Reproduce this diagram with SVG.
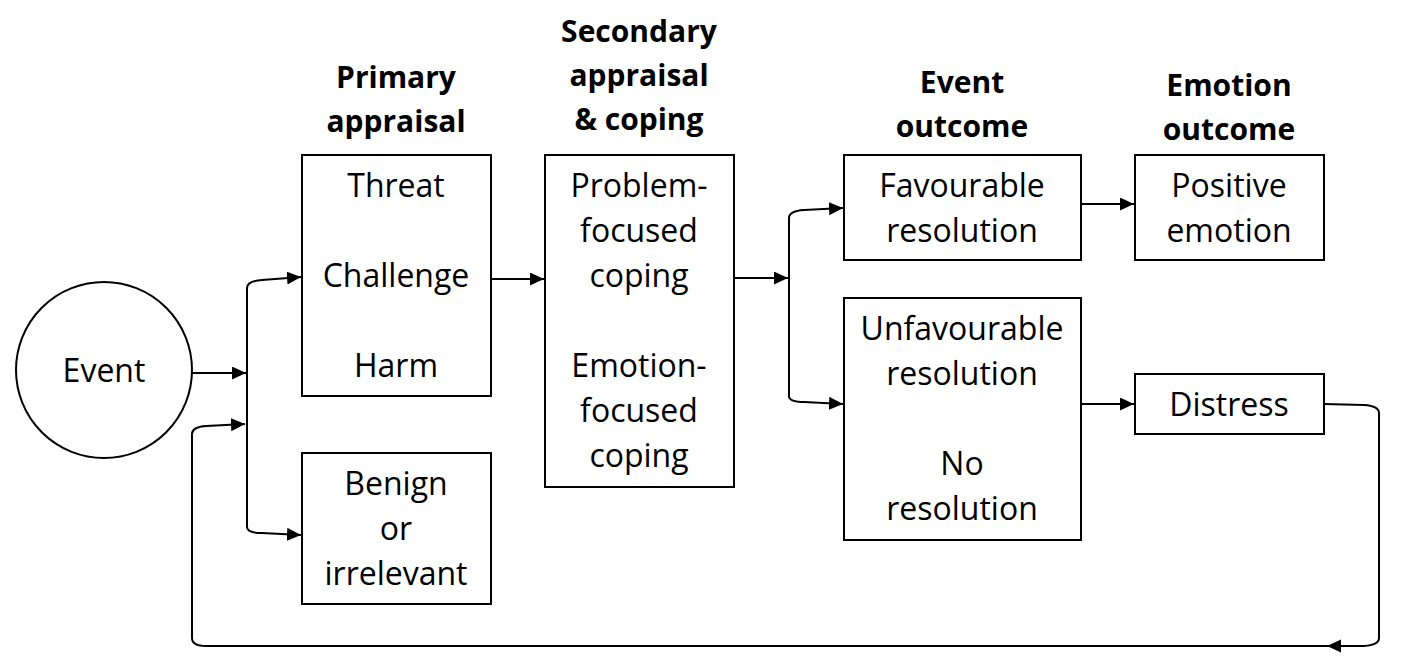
<svg xmlns="http://www.w3.org/2000/svg" width="1402" height="666" viewBox="0 0 1402 666">
<style>
.box{fill:#fff;stroke:#000;stroke-width:2}
.t{font-family:"Open Sans","Noto Sans",sans-serif;font-size:32px;fill:#000;text-anchor:middle}
.h{font-family:"Open Sans","Noto Sans",sans-serif;font-size:30px;font-weight:bold;fill:#000;text-anchor:middle}
.c{fill:none;stroke:#000;stroke-width:2}
</style>
<defs>
<marker id="arr" markerUnits="userSpaceOnUse" markerWidth="16" markerHeight="14" refX="14" refY="6.5" orient="auto">
<path d="M0,0 L14,6.5 L0,13 z" fill="#000"/>
</marker>
</defs>
<rect width="1402" height="666" fill="#fff"/>
<g id="headers">
<text class="h" x="396" y="88">Primary</text>
<text class="h" x="396" y="132">appraisal</text>
<text class="h" x="639" y="42">Secondary</text>
<text class="h" x="639" y="86">appraisal</text>
<text class="h" x="639" y="130">&amp; coping</text>
<text class="h" x="962" y="93">Event</text>
<text class="h" x="962" y="137">outcome</text>
<text class="h" x="1229" y="96">Emotion</text>
<text class="h" x="1229" y="140">outcome</text>
</g>
<g id="connectors">
<path class="c" d="M192,373 H246" marker-end="url(#arr)"/>
<path class="c" d="M247,373 V288 Q247,281 262,280 L301,277" marker-end="url(#arr)"/>
<path class="c" d="M247,373 V527 Q247,533 262,533 L301,535" marker-end="url(#arr)"/>
<path class="c" d="M491,279 H544" marker-end="url(#arr)"/>
<path class="c" d="M734,278 H788" marker-end="url(#arr)"/>
<path class="c" d="M789,278 V218 Q789,211 804,210 L843,208" marker-end="url(#arr)"/>
<path class="c" d="M789,278 V396 Q789,402 804,402 L843,404" marker-end="url(#arr)"/>
<path class="c" d="M1081,204 H1134" marker-end="url(#arr)"/>
<path class="c" d="M1081,404 H1134" marker-end="url(#arr)"/>
<path class="c" d="M1324,404 L1364,405 Q1379,406 1379,413 V638 Q1379,645 1364,646 L1327,646" marker-end="url(#arr)"/>
<path class="c" d="M1328,646 H206 Q192,646 192,638 V434 Q192,427 206,426 L245,424" marker-end="url(#arr)"/>
</g>
<g id="event">
<circle cx="104" cy="370" r="88" fill="#fff" stroke="#000" stroke-width="2"/>
<text class="t" x="104" y="382">Event</text>
</g>
<g id="primary">
<rect class="box" x="302" y="155" width="189" height="241"/>
<text class="t" x="396" y="197">Threat</text>
<text class="t" x="396" y="287">Challenge</text>
<text class="t" x="396" y="377">Harm</text>
</g>
<g id="benign">
<rect class="box" x="302" y="453" width="189" height="151"/>
<text class="t" x="396" y="495">Benign</text>
<text class="t" x="396" y="540">or</text>
<text class="t" x="396" y="585">irrelevant</text>
</g>
<g id="coping">
<rect class="box" x="545" y="155" width="189" height="332"/>
<text class="t" x="639" y="197">Problem-</text>
<text class="t" x="639" y="242">focused</text>
<text class="t" x="639" y="287">coping</text>
<text class="t" x="639" y="377">Emotion-</text>
<text class="t" x="639" y="422">focused</text>
<text class="t" x="639" y="467">coping</text>
</g>
<g id="favourable">
<rect class="box" x="844" y="155" width="237" height="105"/>
<text class="t" x="962" y="197">Favourable</text>
<text class="t" x="962" y="242">resolution</text>
</g>
<g id="unfavourable">
<rect class="box" x="844" y="298" width="237" height="242"/>
<text class="t" x="962" y="340">Unfavourable</text>
<text class="t" x="962" y="385">resolution</text>
<text class="t" x="962" y="475">No</text>
<text class="t" x="962" y="520">resolution</text>
</g>
<g id="positive">
<rect class="box" x="1135" y="155" width="189" height="105"/>
<text class="t" x="1229" y="197">Positive</text>
<text class="t" x="1229" y="242">emotion</text>
</g>
<g id="distress">
<rect class="box" x="1135" y="374" width="189" height="60"/>
<text class="t" x="1229" y="416">Distress</text>
</g>
</svg>
